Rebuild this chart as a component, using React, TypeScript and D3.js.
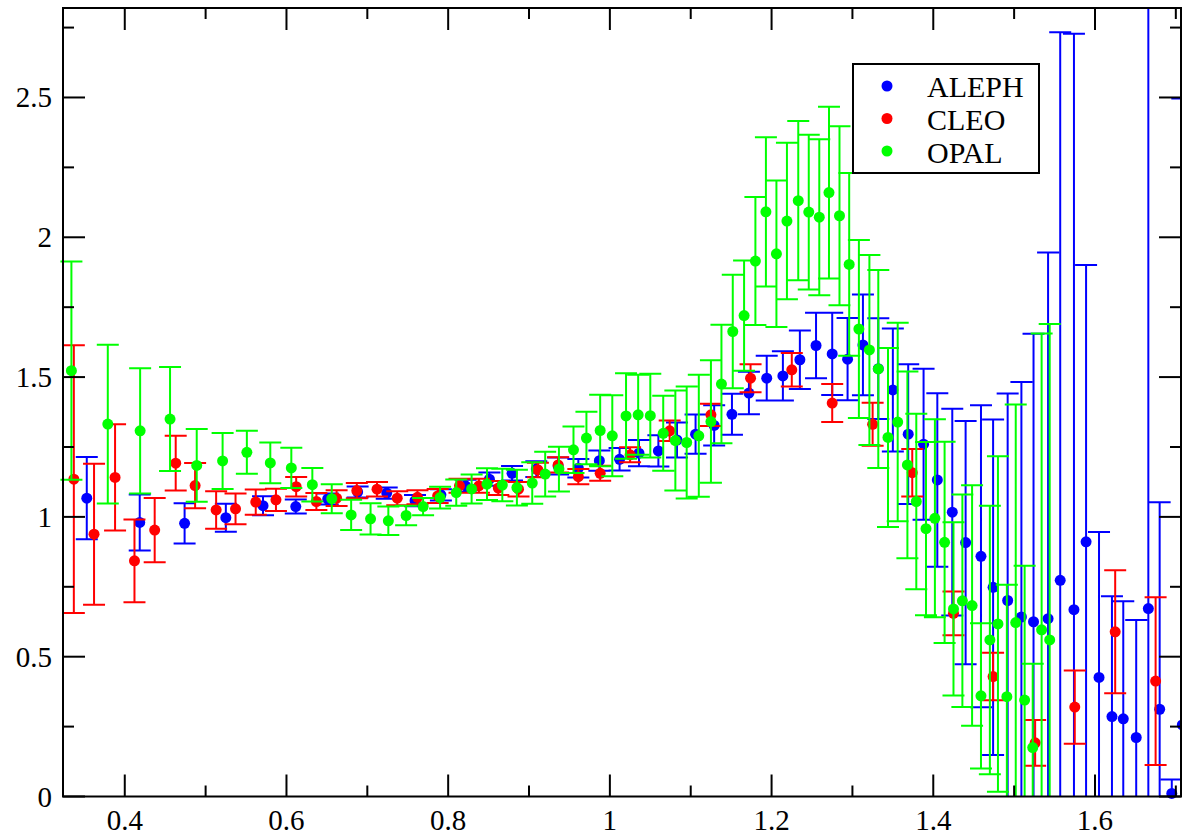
import React, { useEffect, useRef } from "react";
import * as d3 from "d3";

// ALEPH (blue)
const alephX = [0.353, 0.4185, 0.474, 0.525, 0.571, 0.6115, 0.651, 0.688, 0.724, 0.759, 0.791, 0.8215, 0.851, 0.879, 0.909, 0.936, 0.961, 0.987, 1.012, 1.036, 1.06, 1.083, 1.106, 1.129, 1.151, 1.172, 1.194, 1.214, 1.235, 1.255, 1.275, 1.294, 1.313, 1.332, 1.35, 1.369, 1.388, 1.405, 1.4235, 1.44, 1.459, 1.474, 1.492, 1.509, 1.524, 1.542, 1.557, 1.574, 1.589, 1.605, 1.621, 1.635, 1.651, 1.666, 1.68, 1.695, 1.708];
const alephY = [1.067, 0.98, 0.977, 0.997, 1.04, 1.037, 1.064, 1.089, 1.085, 1.058, 1.079, 1.111, 1.135, 1.156, 1.171, 1.182, 1.174, 1.201, 1.206, 1.228, 1.236, 1.275, 1.296, 1.327, 1.367, 1.443, 1.496, 1.504, 1.562, 1.613, 1.583, 1.564, 1.615, 1.53, 1.454, 1.296, 1.26, 1.132, 1.017, 0.908, 0.859, 0.748, 0.701, 0.642, 0.625, 0.636, 0.773, 0.668, 0.911, 0.426, 0.286, 0.278, 0.211, 0.672, 0.312, 0.011, 0.256];
const alephErr = [0.147, 0.1, 0.072, 0.05, 0.034, 0.025, 0.02, 0.02, 0.02, 0.02, 0.02, 0.022, 0.024, 0.026, 0.028, 0.03, 0.033, 0.036, 0.04, 0.047, 0.056, 0.063, 0.07, 0.072, 0.073, 0.076, 0.08, 0.088, 0.105, 0.117, 0.147, 0.147, 0.18, 0.18, 0.22, 0.25, 0.27, 0.31, 0.37, 0.435, 0.54, 0.6, 0.74, 0.84, 1.03, 1.31, 1.96, 2.06, 0.99, 0.52, 0.43, 0.42, 0.42, 2.6, 0.74, 0.05, 2.24];

// CLEO (red)
const cleoX = [0.337, 0.362, 0.388, 0.412, 0.437, 0.463, 0.487, 0.513, 0.537, 0.562, 0.587, 0.612, 0.637, 0.662, 0.687, 0.712, 0.737, 0.762, 0.787, 0.814, 0.838, 0.862, 0.887, 0.911, 0.936, 0.961, 0.988, 1.025, 1.074, 1.125, 1.174, 1.225, 1.275, 1.325, 1.374, 1.425, 1.474, 1.526, 1.575, 1.625, 1.675];
const cleoY = [1.135, 0.938, 1.141, 0.843, 0.953, 1.192, 1.112, 1.025, 1.029, 1.053, 1.061, 1.108, 1.055, 1.067, 1.094, 1.099, 1.067, 1.07, 1.075, 1.111, 1.111, 1.103, 1.099, 1.168, 1.186, 1.144, 1.156, 1.222, 1.308, 1.365, 1.496, 1.526, 1.407, 1.331, 1.158, 0.655, 0.429, 0.192, 0.32, 0.589, 0.413];
const cleoErr = [0.479, 0.252, 0.19, 0.148, 0.115, 0.098, 0.081, 0.067, 0.055, 0.045, 0.04, 0.035, 0.03, 0.028, 0.027, 0.026, 0.025, 0.025, 0.025, 0.025, 0.025, 0.025, 0.026, 0.026, 0.027, 0.027, 0.027, 0.027, 0.037, 0.04, 0.05, 0.06, 0.068, 0.077, 0.085, 0.078, 0.085, 0.082, 0.131, 0.22, 0.3];

// OPAL (green)
const opalX = [0.334, 0.379, 0.419, 0.456, 0.489, 0.521, 0.551, 0.58, 0.606, 0.632, 0.656, 0.68, 0.704, 0.726, 0.748, 0.769, 0.79, 0.81, 0.829, 0.848, 0.867, 0.885, 0.904, 0.92, 0.937, 0.955, 0.971, 0.988, 1.003, 1.02, 1.035, 1.05, 1.066, 1.081, 1.095, 1.11, 1.125, 1.138, 1.152, 1.166, 1.18, 1.193, 1.206, 1.219, 1.233, 1.246, 1.259, 1.271, 1.284, 1.296, 1.308, 1.321, 1.332, 1.344, 1.356, 1.368, 1.379, 1.391, 1.402, 1.414, 1.425, 1.436, 1.448, 1.459, 1.47, 1.48, 1.491, 1.502, 1.513, 1.523, 1.534, 1.544];
const opalY = [1.523, 1.332, 1.308, 1.35, 1.184, 1.2, 1.231, 1.193, 1.175, 1.115, 1.065, 1.007, 0.993, 0.986, 1.005, 1.037, 1.069, 1.087, 1.1, 1.117, 1.114, 1.105, 1.121, 1.153, 1.171, 1.24, 1.282, 1.309, 1.29, 1.361, 1.365, 1.362, 1.299, 1.273, 1.266, 1.29, 1.341, 1.475, 1.663, 1.72, 1.915, 2.091, 1.941, 2.058, 2.131, 2.09, 2.072, 2.16, 2.077, 1.903, 1.672, 1.597, 1.529, 1.284, 1.339, 1.186, 1.055, 0.958, 0.995, 0.909, 0.671, 0.7, 0.683, 0.36, 0.56, 0.617, 0.357, 0.622, 0.345, 0.175, 0.596, 0.56];
const opalErr = [0.39, 0.284, 0.224, 0.186, 0.13, 0.1, 0.077, 0.073, 0.072, 0.06, 0.052, 0.054, 0.056, 0.051, 0.035, 0.031, 0.039, 0.047, 0.052, 0.057, 0.058, 0.064, 0.074, 0.08, 0.08, 0.083, 0.094, 0.128, 0.145, 0.153, 0.143, 0.15, 0.134, 0.179, 0.2, 0.218, 0.219, 0.212, 0.203, 0.197, 0.229, 0.267, 0.262, 0.28, 0.285, 0.277, 0.279, 0.307, 0.32, 0.327, 0.318, 0.34, 0.354, 0.32, 0.355, 0.334, 0.314, 0.31, 0.354, 0.36, 0.31, 0.38, 0.43, 0.26, 0.48, 0.6, 0.4, 0.78, 0.48, 0.3, 1.06, 1.13];

const seriesNames = ["ALEPH", "CLEO", "OPAL"];
const seriesColors = ["#0000ff", "#ff0000", "#00ff00"];

const xMajorTicks = [0.4, 0.6, 0.8, 1.0, 1.2, 1.4, 1.6];
const xMinorTicks = [0.5, 0.7, 0.9, 1.1, 1.3, 1.5, 1.7];
const yMajorTicks = [0, 0.5, 1, 1.5, 2, 2.5];
const yMinorTicks = [0.25, 0.75, 1.25, 1.75, 2.25, 2.75];

const App = () => {
  const svgRef = useRef<SVGSVGElement>(null);

  useEffect(() => {
    const width = 1182;
    const height = 836;
    const margin = { top: 8, right: 1, bottom: 39.5, left: 63 };
    const font = "Liberation Serif, DejaVu Serif, serif";

    const svg = d3
      .select(svgRef.current)
      .attr("width", width)
      .attr("height", height)
      .attr("font-family", font)
      .style("background", "#fff");

    svg.selectAll("*").remove();

    const x = d3
      .scaleLinear()
      .domain([0.3236, 1.7064])
      .range([margin.left, width - margin.right]);
    const y = d3
      .scaleLinear()
      .domain([0, 2.82])
      .range([height - margin.bottom, margin.top]);

    const x0 = x.range()[0];
    const x1 = x.range()[1];
    const y0 = y.range()[0];
    const y1 = y.range()[1];

    svg
      .append("defs")
      .append("clipPath")
      .attr("id", "plot-clip")
      .append("rect")
      .attr("x", 0)
      .attr("y", y1)
      .attr("width", width)
      .attr("height", y0 - y1);

    const series = [
      { xs: alephX, ys: alephY, es: alephErr },
      { xs: cleoX, ys: cleoY, es: cleoErr },
      { xs: opalX, ys: opalY, es: opalErr },
    ];

    const cap = 11;

    series.forEach((s, i) => {
      const pts = s.xs.map((v, k) => ({ x: v, y: s.ys[k], e: s.es[k] }));
      const color = seriesColors[i];
      const g = svg.append("g");

      // error bars
      const bars = g.append("g").attr("clip-path", "url(#plot-clip)");
      const path = pts
        .map((d) => {
          const cx = x(d.x);
          const top = y(d.y + d.e);
          const bot = y(d.y - d.e);
          return `M${cx},${top}V${bot}M${cx - cap},${top}H${cx + cap}M${cx - cap},${bot}H${cx + cap}`;
        })
        .join("");
      bars
        .append("path")
        .attr("d", path)
        .attr("fill", "none")
        .attr("stroke", color)
        .attr("stroke-width", 2);

      // symbols
      g.selectAll("circle")
        .data(pts)
        .join("circle")
        .attr("cx", (d) => x(d.x))
        .attr("cy", (d) => y(d.y))
        .attr("r", 5.5)
        .attr("fill", color);
    });

    // frame
    svg
      .append("rect")
      .attr("x", x0)
      .attr("y", y1)
      .attr("width", x1 - x0)
      .attr("height", y0 - y1)
      .attr("fill", "none")
      .attr("stroke", "#000")
      .attr("stroke-width", 2);

    const ticks = svg.append("g").attr("stroke", "#000").attr("stroke-width", 2);
    const tickLine = (xa: number, ya: number, xb: number, yb: number) =>
      ticks.append("line").attr("x1", xa).attr("y1", ya).attr("x2", xb).attr("y2", yb);

    xMajorTicks.forEach((t) => {
      tickLine(x(t), y0, x(t), y0 - 22);
      tickLine(x(t), y1, x(t), y1 + 22);
    });
    xMinorTicks.forEach((t) => {
      if (t > x.domain()[1]) return;
      tickLine(x(t), y0, x(t), y0 - 11);
      tickLine(x(t), y1, x(t), y1 + 11);
    });
    yMajorTicks.forEach((t) => {
      tickLine(x0, y(t), x0 + 22, y(t));
      tickLine(x1, y(t), x1 - 22, y(t));
    });
    yMinorTicks.forEach((t) => {
      if (t > y.domain()[1]) return;
      tickLine(x0, y(t), x0 + 11, y(t));
      tickLine(x1, y(t), x1 - 11, y(t));
    });

    const fmt = d3.format("~g");

    svg
      .append("g")
      .selectAll("text")
      .data(xMajorTicks)
      .join("text")
      .attr("x", (d) => x(d))
      .attr("y", y0 + 33)
      .attr("text-anchor", "middle")
      .attr("font-family", font)
      .attr("font-size", 29)
      .text((d) => fmt(d));

    svg
      .append("g")
      .selectAll("text")
      .data(yMajorTicks)
      .join("text")
      .attr("x", x0 - 11)
      .attr("y", (d) => y(d) + 10)
      .attr("text-anchor", "end")
      .attr("font-family", font)
      .attr("font-size", 29)
      .text((d) => fmt(d));

    // legend
    const legend = svg.append("g").attr("transform", "translate(853, 64)");
    legend
      .append("rect")
      .attr("width", 186)
      .attr("height", 109)
      .attr("fill", "#fff")
      .attr("stroke", "#000")
      .attr("stroke-width", 2);

    seriesNames.forEach((name, i) => {
      legend
        .append("circle")
        .attr("cx", 34)
        .attr("cy", 22 + i * 32.5)
        .attr("r", 5.5)
        .attr("fill", seriesColors[i]);
      legend
        .append("text")
        .attr("x", 74)
        .attr("y", 33 + i * 33)
        .attr("font-family", font)
        .attr("font-size", 30)
        .text(name);
    });
  }, []);

  return (
    <svg
      ref={svgRef}
      style={{ position: "absolute", left: 0, top: 0, display: "block" }}
    ></svg>
  );
};

export default App;
